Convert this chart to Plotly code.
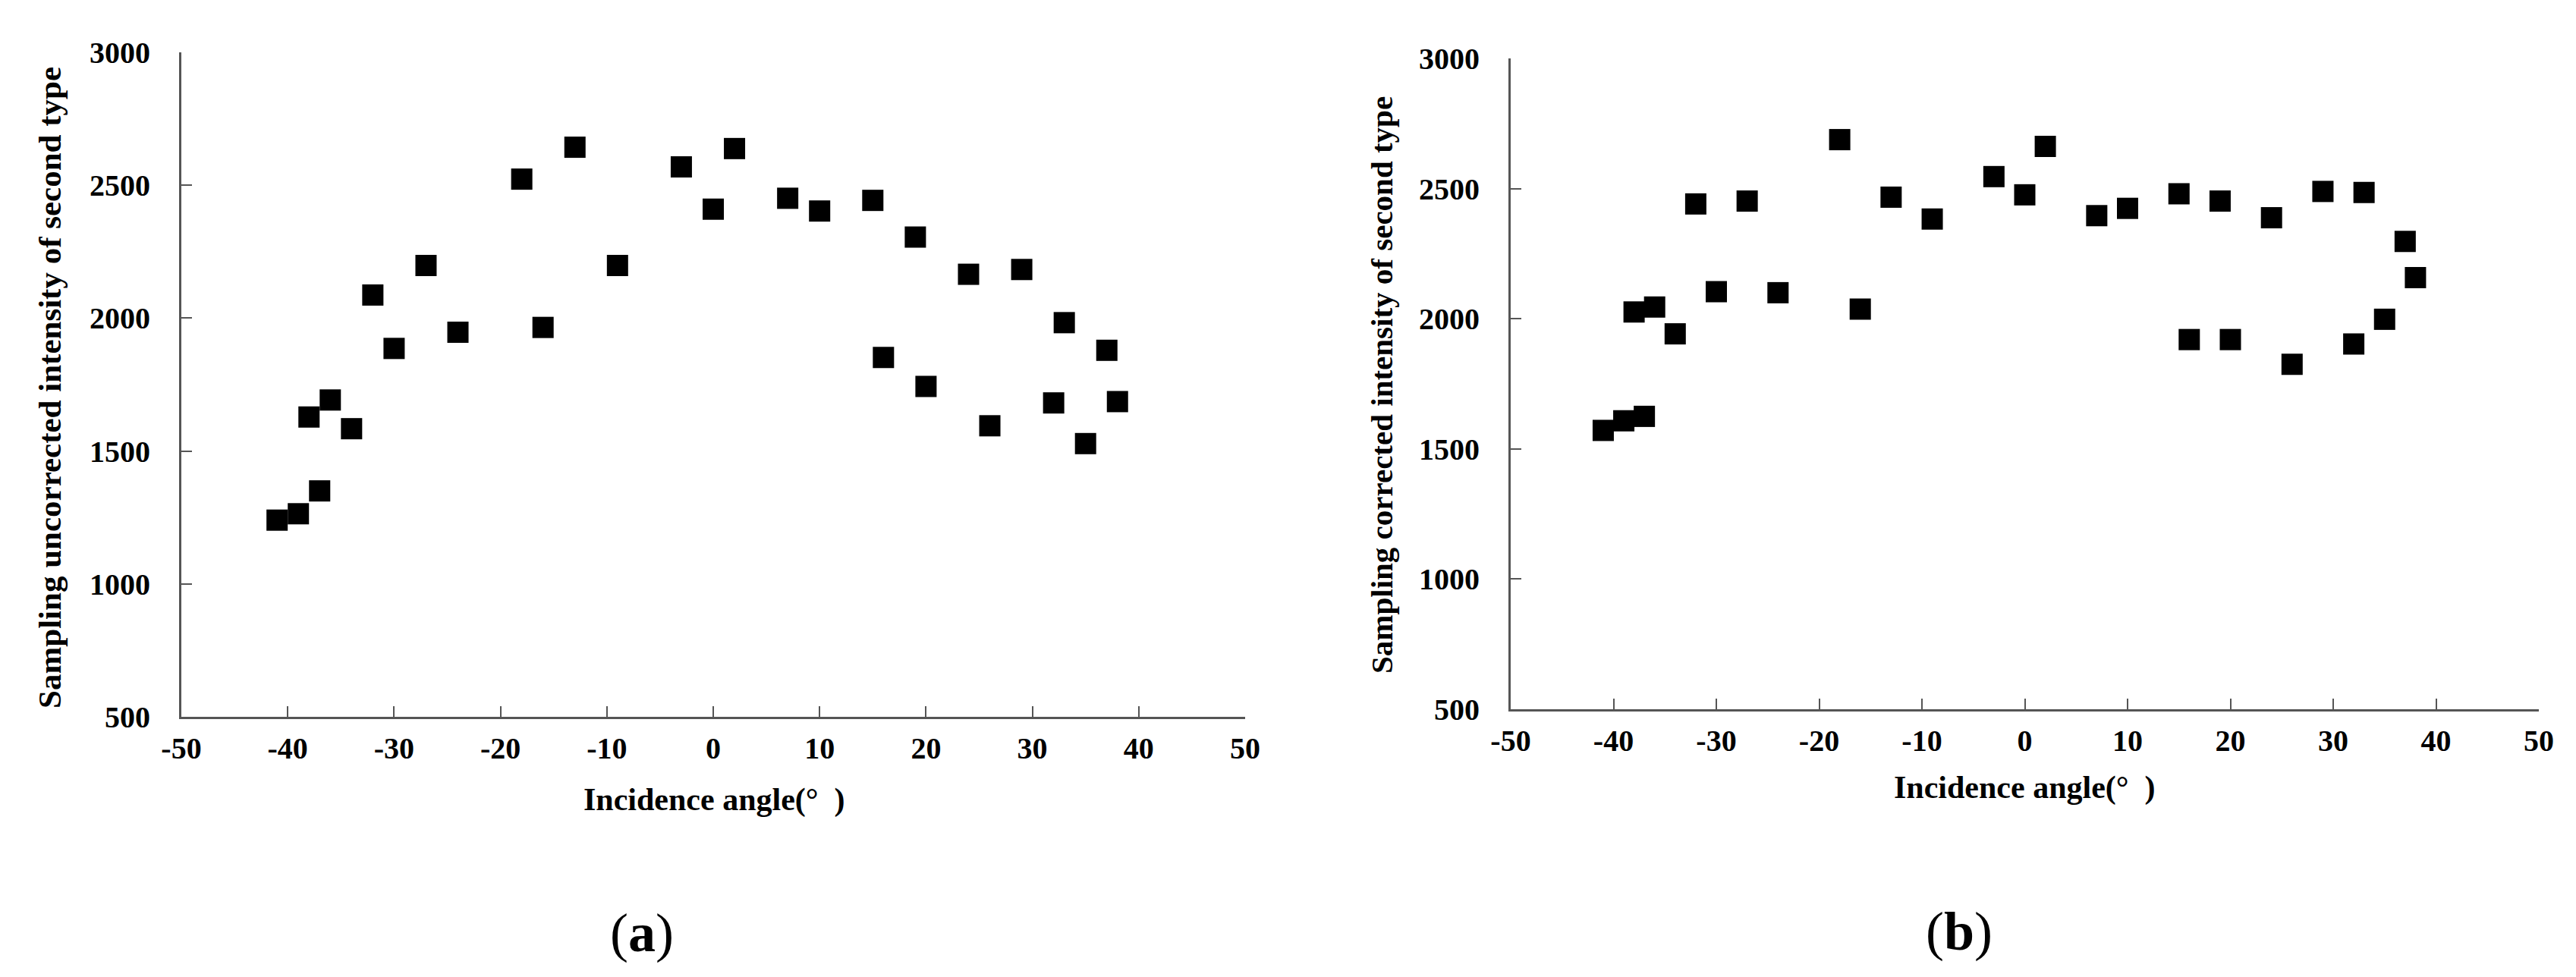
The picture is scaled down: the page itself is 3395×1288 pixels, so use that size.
import plotly.graph_objects as go

# Datos
angulos = [-41, -39, -38, -37, -36, -34, -32, -30, -27, -24, -18, -16, -13, -9, -3,
           0, 2, 7, 10, 15, 16, 19, 20, 24, 26, 29, 32, 33, 35, 37, 38]

sin_corregir = [1240, 1264, 1628, 1350, 1692, 1584, 2087, 1886, 2198, 1947, 2523,
                1965, 2643, 2198, 2569, 2410, 2638, 2451, 2403, 2443, 1852, 2305,
                1743, 2165, 1595, 2183, 1681, 1983, 1528, 1879, 1686]

corregida = [1571, 1608, 2026, 1625, 2045, 1942, 2441, 2104, 2452, 2100, 2688,
             2037, 2467, 2383, 2546, 2476, 2662, 2396, 2424, 2480, 1920, 2452,
             1920, 2388, 1825, 2489, 1903, 2485, 1998, 2297, 2158]

ticks_x = [-50, -40, -30, -20, -10, 0, 10, 20, 30, 40, 50]
ticks_y = [500, 1000, 1500, 2000, 2500, 3000]

W, H = 3395, 1288
fuente = "Liberation Serif"
gris = "#555555"

fig = go.Figure()

fig.add_trace(go.Scatter(x=angulos, y=sin_corregir, mode="markers",
                         marker=dict(symbol="square", size=28, color="black"),
                         xaxis="x", yaxis="y"))
fig.add_trace(go.Scatter(x=angulos, y=corregida, mode="markers",
                         marker=dict(symbol="square", size=28, color="black"),
                         xaxis="x2", yaxis="y2"))

#Ejes
eje = dict(showline=True, linecolor=gris, linewidth=3, showgrid=False, zeroline=False,
           ticks="inside", ticklen=14, tickwidth=2, tickcolor=gris, automargin=False,
           tickfont=dict(family=fuente, size=40, color="black", weight="bold"))

etiquetas_x = [str(v) for v in ticks_x]
etiquetas_y = [str(v) for v in ticks_y]

fig.update_layout(
    width=W, height=H,
    margin=dict(l=0, r=0, t=0, b=0, pad=0, autoexpand=False),
    paper_bgcolor="white", plot_bgcolor="white",
    showlegend=False,
    xaxis=dict(eje, domain=[231 / W, 1633 / W], range=[-50, 50], tickvals=ticks_x,
               ticktext=etiquetas_x, anchor="y", ticklabelstandoff=4),
    yaxis=dict(eje, domain=[(H - 937) / H, (H - 61) / H], range=[500, 3000],
               tickvals=ticks_y, ticktext=etiquetas_y, anchor="x", ticklabelstandoff=30),
    xaxis2=dict(eje, domain=[1983 / W, 3338 / W], range=[-50, 50], tickvals=ticks_x,
                ticktext=etiquetas_x, anchor="y2", ticklabelstandoff=4),
    yaxis2=dict(eje, domain=[(H - 927) / H, (H - 69) / H], range=[500, 3000],
                tickvals=ticks_y, ticktext=etiquetas_y, anchor="x2", ticklabelstandoff=30),
)

#Titulos de ejes y etiquetas
def texto(t, x, y, size, angle=0):
    fig.add_annotation(text=t, x=x / W, y=1 - y / H, xref="paper", yref="paper",
                       showarrow=False, textangle=angle, xanchor="center", yanchor="middle",
                       font=dict(family=fuente, size=size, color="black", weight="bold"))

texto("Sampling uncorrected intensity of second type", 58, 503, 43, -90)
texto("Sampling corrected intensity of second type", 1813, 500, 41, -90)
texto("Incidence angle(°  )", 933, 1046, 42)
texto("Incidence angle(°  )", 2660, 1030, 42)

fig.add_annotation(text="(<b>a</b>)", x=838 / W, y=1 - 1222 / H, xref="paper", yref="paper",
                   showarrow=False, xanchor="center", yanchor="middle",
                   font=dict(family=fuente, size=72, color="black"))
fig.add_annotation(text="(<b>b</b>)", x=2574 / W, y=1 - 1220 / H, xref="paper", yref="paper",
                   showarrow=False, xanchor="center", yanchor="middle",
                   font=dict(family=fuente, size=72, color="black"))

fig.write_html("out.html")
